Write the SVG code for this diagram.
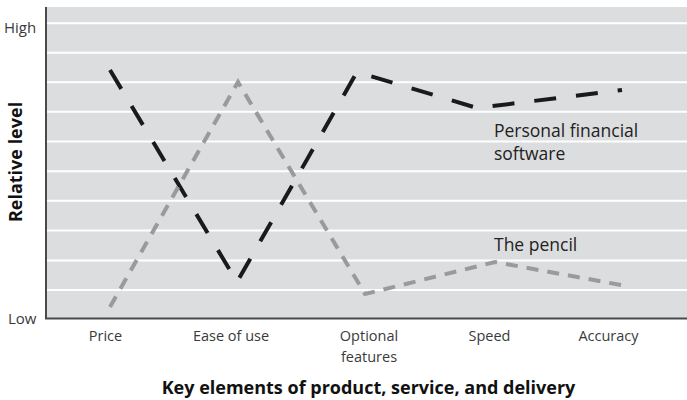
<svg xmlns="http://www.w3.org/2000/svg" width="687" height="400" viewBox="0 0 687 400">
<style>
.grid{stroke:#ffffff;stroke-width:2}
.axis{stroke:#4a4a4a;stroke-width:2;fill:none}
.tick{font-family:"Open Sans","Liberation Sans",sans-serif;font-size:15px;fill:#3a3a3a}
.cat{font-family:"Open Sans","Liberation Sans",sans-serif;font-size:14.5px;fill:#3a3a3a;text-anchor:middle}
.lbl{font-family:"Open Sans","Liberation Sans",sans-serif;font-size:17.5px;fill:#222}
.title{font-family:"Open Sans","Liberation Sans",sans-serif;font-size:18px;font-weight:bold;fill:#111}
.s1{fill:none;stroke:#1a1a1a;stroke-width:4;stroke-dasharray:22 20;stroke-linejoin:miter}
.s2{fill:none;stroke:#999a9c;stroke-width:4;stroke-dasharray:12 9;stroke-linejoin:miter}
</style>
<rect x="46" y="7" width="641" height="311" fill="#dcdddf"/>
<g id="grid">
<line class="grid" x1="47" y1="23.3" x2="687" y2="23.3"/>
<line class="grid" x1="47" y1="52.7" x2="687" y2="52.7"/>
<line class="grid" x1="47" y1="82.3" x2="687" y2="82.3"/>
<line class="grid" x1="47" y1="111.7" x2="687" y2="111.7"/>
<line class="grid" x1="47" y1="141.5" x2="687" y2="141.5"/>
<line class="grid" x1="47" y1="171.2" x2="687" y2="171.2"/>
<line class="grid" x1="47" y1="200.8" x2="687" y2="200.8"/>
<line class="grid" x1="47" y1="230.6" x2="687" y2="230.6"/>
<line class="grid" x1="47" y1="260.4" x2="687" y2="260.4"/>
<line class="grid" x1="47" y1="290" x2="687" y2="290"/>
</g>
<g id="axes">
<polyline class="axis" points="46,7 46,318.5 687,318.5"/>
</g>
<g id="connectors">
<polyline id="series-software" class="s1" points="110,70 237,282 357,72 477,108 622,90"/>
<polyline id="series-pencil" class="s2" points="110,307 238,82 365,294 495,262 621,285"/>
</g>
<g id="y-labels">
<text class="tick" x="4" y="33">High</text>
<text class="tick" x="8" y="324">Low</text>
<text class="title" transform="translate(22,162) rotate(-90)" text-anchor="middle" font-size="17">Relative level</text>
</g>
<g id="x-labels">
<text class="cat" x="105.5" y="341">Price</text>
<text class="cat" x="231" y="341">Ease of use</text>
<text class="cat" x="369" y="341">Optional</text>
<text class="cat" x="369" y="362">features</text>
<text class="cat" x="489.5" y="341">Speed</text>
<text class="cat" x="608.5" y="341">Accuracy</text>
</g>
<g id="series-labels">
<text class="lbl" x="494" y="137">Personal financial</text>
<text class="lbl" x="494" y="160">software</text>
<text class="lbl" x="494" y="251">The pencil</text>
</g>
<text class="title" x="368.5" y="394" text-anchor="middle">Key elements of product, service, and delivery</text>
</svg>
